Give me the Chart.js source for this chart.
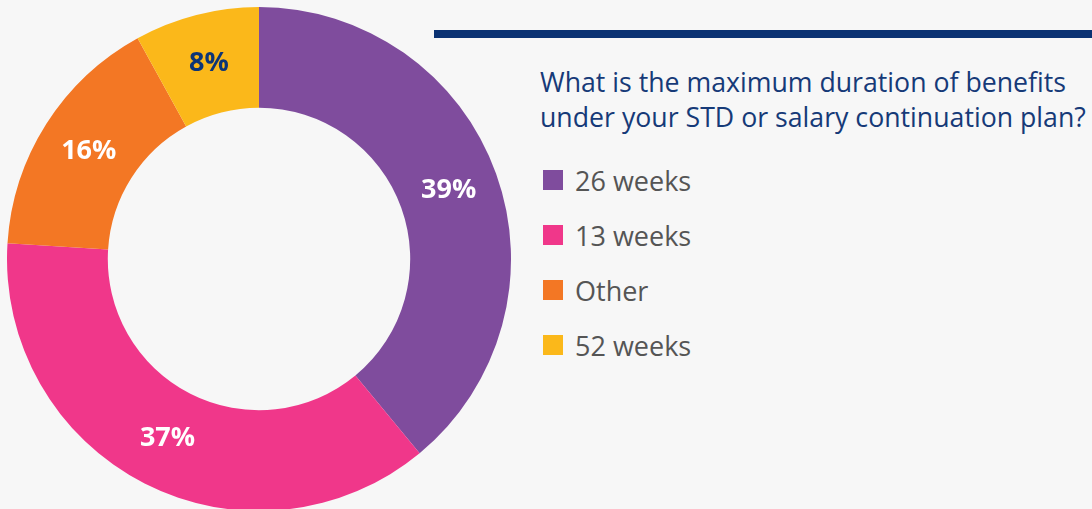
<!DOCTYPE html>
<html>
<head>
<meta charset="utf-8">
<script src="https://cdn.jsdelivr.net/npm/chart.js@4/dist/chart.umd.min.js"></script>
<style>
    html, body {
        margin: 0;
        padding: 0;
        width: 1092px;
        height: 509px;
        overflow: hidden;
        background: #f7f7f7;
        font-family: "Open Sans", "Noto Sans", sans-serif;
    }
    #chartBox {
        position: absolute;
        left: 7px;
        top: 7px;
        width: 504px;
        height: 504px;
    }
    .topBar {
        position: absolute;
        left: 434px;
        top: 30px;
        width: 658px;
        height: 8px;
        background: #0b3273;
    }
    .question {
        position: absolute;
        left: 540px;
        top: 64px;
        color: #163a78;
        font-size: 26.7px;
        line-height: 35px;
        white-space: nowrap;
    }
    #legend {
        position: absolute;
        left: 543px;
        top: 165px;
        list-style: none;
        margin: 0;
        padding: 0;
    }
    #legend li {
        height: 55px;
        display: flex;
        align-items: flex-start;
        color: #555;
        font-size: 27px;
        line-height: 31px;
    }
    #legend .swatch {
        width: 20px;
        height: 20px;
        margin-top: 5px;
        margin-right: 12px;
    }
</style>
</head>
<body>
<div class="topBar"></div>
<div class="question">What is the maximum duration of benefits<br>under your STD or salary continuation plan?</div>
<ul id="legend"></ul>
<div id="chartBox"><canvas id="durationChart"></canvas></div>

<script>
const categories = ['26 weeks', '13 weeks', 'Other', '52 weeks'];
const shares = [39, 37, 16, 8];
const sliceColors = ['#7f4c9d', '#f0378a', '#f37724', '#fbb81a'];
const labelColors = ['#ffffff', '#ffffff', '#ffffff', '#0d3577'];

// legend on the right
const legend = document.getElementById('legend');
categories.forEach((name, i) => {
    legend.innerHTML += `<li><span class="swatch" style="background:${sliceColors[i]}"></span>${name}</li>`;
});

// percentage text in the middle of each ring segment
const sliceLabels = {
    id: 'sliceLabels',
    afterDatasetsDraw(chart) {
        const ctx = chart.ctx;
        const meta = chart.getDatasetMeta(0);
        ctx.save();
        ctx.font = 'bold 27px "Open Sans", sans-serif';
        ctx.textAlign = 'center';
        ctx.textBaseline = 'middle';
        meta.data.forEach((arc, i) => {
            const pos = arc.tooltipPosition();
            ctx.fillStyle = labelColors[i];
            ctx.fillText(shares[i] + '%', pos.x, pos.y);
        });
        ctx.restore();
    }
};

new Chart(document.getElementById('durationChart'), {
    type: 'doughnut',
    data: {
        labels: categories,
        datasets: [{
            data: shares,
            backgroundColor: sliceColors,
            borderWidth: 0
        }]
    },
    options: {
        responsive: true,
        maintainAspectRatio: false,
        animation: false,
        cutout: '60%',
        layout: { padding: 0 },
        plugins: {
            legend: { display: false },
            tooltip: { enabled: false }
        }
    },
    plugins: [sliceLabels]
});
</script>
</body>
</html>
